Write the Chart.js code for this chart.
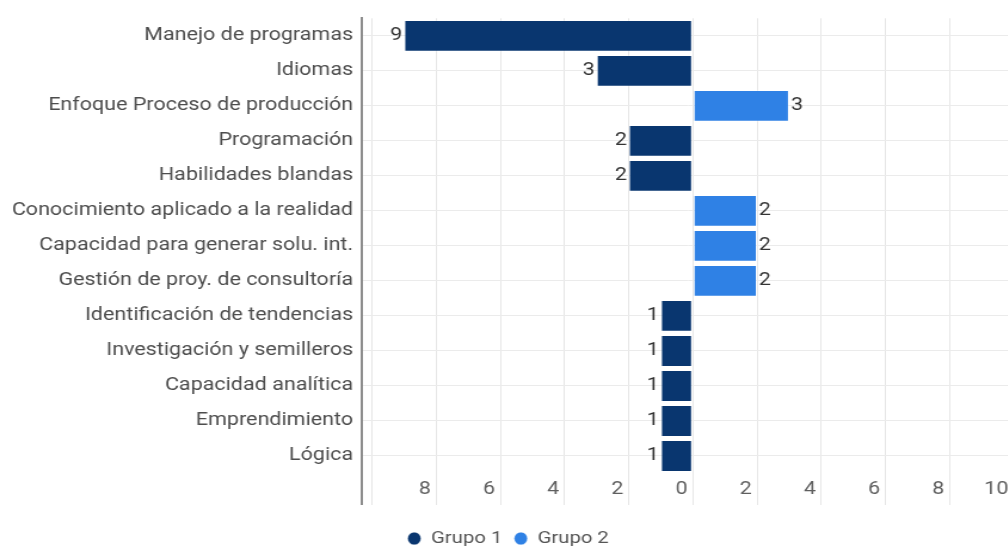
<!DOCTYPE html>
<html>
<head>
<meta charset="utf-8">
<script src="https://cdn.jsdelivr.net/npm/chart.js@4.4.1/dist/chart.umd.min.js"></script>
<style>
  html, body { margin: 0; padding: 0; background: #ffffff; overflow: hidden; width: 1008px; height: 548px; }
  #c { display: block; transform: scaleX(1.194); transform-origin: 0 0; }
</style>
</head>
<body>
<canvas id="c" width="851" height="548"></canvas>
<script>
const categories = [
  'Manejo de programas',
  'Idiomas',
  'Enfoque Proceso de producción',
  'Programación',
  'Habilidades blandas',
  'Conocimiento aplicado a la realidad',
  'Capacidad para generar solu. int.',
  'Gestión de proy. de consultoría',
  'Identificación de tendencias',
  'Investigación y semilleros',
  'Capacidad analítica',
  'Emprendimiento',
  'Lógica'
];
const grupo1 = [9, 3, null, 2, 2, null, null, null, 1, 1, 1, 1, 1];
const grupo2 = [null, null, 3, null, null, 2, 2, 2, null, null, null, null, null];
const seriesNames = ['Grupo 1', 'Grupo 2'];
const tickValues = [-10, -8, -6, -4, -2, 0, 2, 4, 6, 8, 10];
const tickLabels = ['', '8', '6', '4', '2', '0', '2', '4', '6', '8', '10'];

const FONT = 'Roboto';
const X_MIN = -10.31;

function toPoints(values, sign) {
  const out = [];
  values.forEach((v, i) => { if (v !== null) out.push({ x: sign * v, y: i }); });
  return out;
}

const valueLabels = {
  id: 'valueLabels',
  afterDatasetsDraw(chart) {
    const ctx = chart.ctx;
    ctx.save();
    ctx.font = '18px ' + FONT;
    ctx.fillStyle = '#333333';
    ctx.textBaseline = 'middle';
    chart.data.datasets.forEach((ds, di) => {
      const meta = chart.getDatasetMeta(di);
      meta.data.forEach((el, j) => {
        const v = ds.data[j].x;
        const neg = v < 0;
        ctx.textAlign = neg ? 'right' : 'left';
        ctx.fillText(String(Math.abs(v)), el.x + (neg ? -1.5 : 1.5), el.y);
      });
    });
    ctx.restore();
  }
};

const isAxisTick = (c) => c.tick && Math.abs(c.tick.value - X_MIN) < 1e-6;

new Chart(document.getElementById('c'), {
  type: 'bar',
  data: {
    datasets: [
      {
        label: seriesNames[0],
        data: toPoints(grupo1, -1),
        backgroundColor: '#09366f',
        borderColor: 'rgba(255,255,255,0.3)',
        borderWidth: 1,
        borderSkipped: false,
        barPercentage: 0.91,
        categoryPercentage: 1
      },
      {
        label: seriesNames[1],
        data: toPoints(grupo2, 1),
        backgroundColor: '#2f81e5',
        borderColor: 'rgba(255,255,255,0.3)',
        borderWidth: 1,
        borderSkipped: false,
        barPercentage: 0.91,
        categoryPercentage: 1
      }
    ]
  },
  plugins: [valueLabels],
  options: {
    indexAxis: 'y',
    responsive: false,
    animation: false,
    devicePixelRatio: 1,
    layout: { padding: { left: 2.4, right: 2, top: 15, bottom: -9 } },
    plugins: {
      legend: {
        position: 'bottom',
        labels: {
          usePointStyle: true,
          pointStyle: 'circle',
          boxWidth: 11,
          boxHeight: 9,
          pointStyleWidth: 11,
          padding: 10,
          color: '#555555',
          font: { family: FONT, size: 17 }
        }
      },
      tooltip: { enabled: false }
    },
    scales: {
      x: {
        type: 'linear',
        stacked: true,
        min: X_MIN,
        max: 10,
        afterBuildTicks: (s) => { s.ticks = [{ value: X_MIN }].concat(tickValues.map(v => ({ value: v }))); },
        afterFit: (s) => { s.height = 46.5; },
        ticks: {
          align: 'end',
          padding: -26.3,
          autoSkip: false,
          maxRotation: 0,
          color: '#5f5f5f',
          font: { family: FONT, size: 18 },
          callback: (v) => {
            const i = tickValues.indexOf(v);
            return i < 0 || tickLabels[i] === '' ? '' : tickLabels[i] + ' ';
          }
        },
        grid: {
          drawTicks: true,
          tickLength: 31.5,
          color: (c) => isAxisTick(c) ? '#8c8c8c' : '#e6e6e6',
          lineWidth: (c) => isAxisTick(c) ? 2 : 1
        },
        border: { display: false }
      },
      y: {
        type: 'linear',
        stacked: true,
        reverse: true,
        offset: false,
        min: -0.5,
        max: 12.5,
        afterBuildTicks: (s) => { s.ticks = categories.map((c, i) => ({ value: i })); },
        ticks: {
          autoSkip: false,
          padding: 7.5,
          color: '#4d4d4d',
          font: { family: FONT, size: 18 },
          callback: (v) => categories[v] !== undefined ? categories[v] : ''
        },
        grid: { color: '#ebebeb', drawTicks: false, offset: false },
        border: { display: true, color: '#8c8c8c', width: 2 }
      }
    }
  }
});
</script>
</body>
</html>
